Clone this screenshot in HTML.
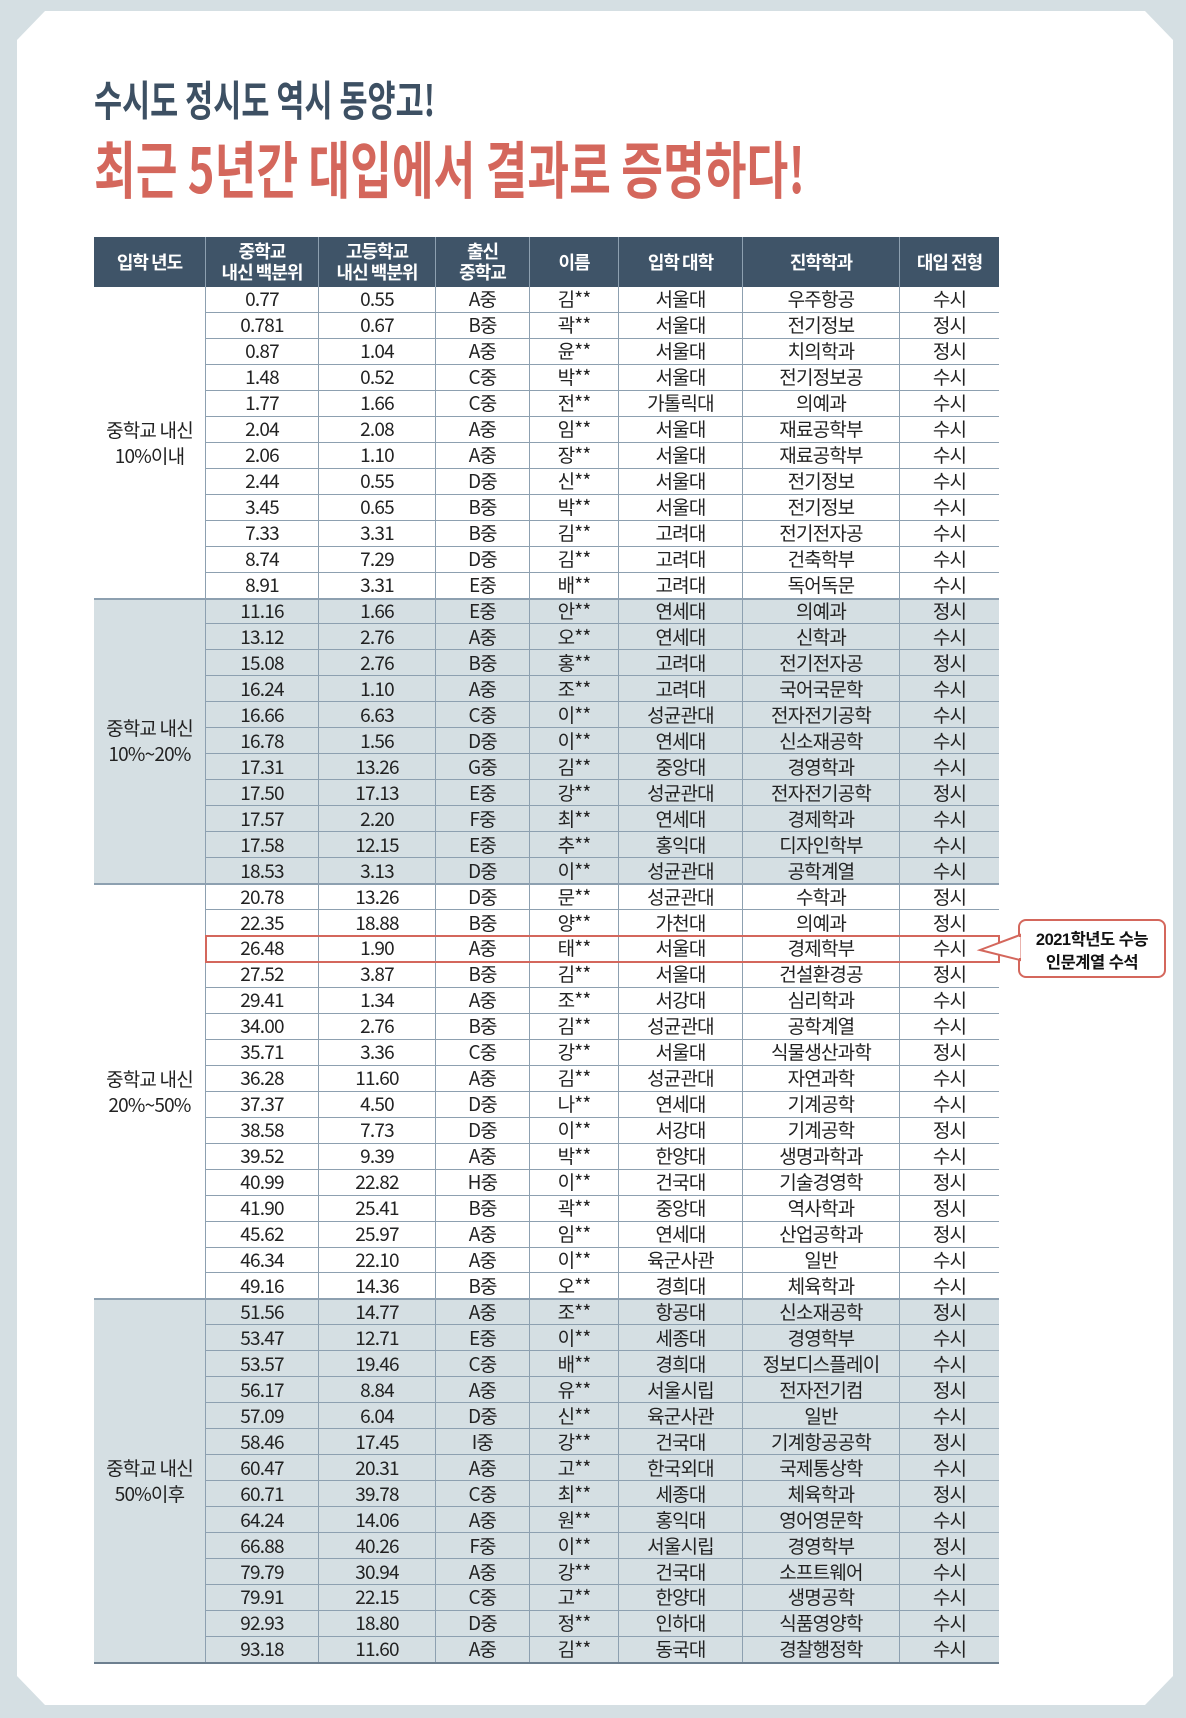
<!DOCTYPE html>
<html><head><meta charset="utf-8">
<style>
html,body{margin:0;padding:0;}
body{width:1186px;height:1718px;background:#d5dfe3;position:relative;overflow:hidden;font-family:"Noto Sans CJK KR",sans-serif;}
#card{position:absolute;left:17px;top:11px;width:1156px;height:1694px;background:#fff;
clip-path:polygon(28px 0,1128px 0,1156px 29px,1156px 1665px,1128px 1694px,28px 1694px,0 1665px,0 29px);}
.c{position:absolute;display:flex;align-items:center;justify-content:center;text-align:center;font-size:19px;line-height:22px;color:#222;letter-spacing:-0.8px;box-sizing:border-box;font-family:"Noto Sans CJK KR",sans-serif;}
.h{color:#fff;font-weight:bold;font-size:18px;line-height:21px;letter-spacing:-1px;}
</style></head><body>
<div id="card"></div>
<svg style="position:absolute;left:0;top:0" width="1186" height="200">
<text x="94" y="116" font-size="42" font-weight="bold" fill="#3d5063" textLength="341" lengthAdjust="spacingAndGlyphs" font-family="Noto Sans CJK KR, sans-serif">수시도 정시도 역시 동양고!</text>
<text x="94" y="193" font-size="62" font-weight="bold" fill="#d4675c" textLength="711" lengthAdjust="spacingAndGlyphs" font-family="Noto Sans CJK KR, sans-serif">최근 5년간 대입에서 결과로 증명하다!</text>
</svg>
<div id="tbl"></div>
<script>
const headers=["입학 년도","중학교<br>내신 백분위","고등학교<br>내신 백분위","출신<br>중학교","이름","입학 대학","진학학과","대입 전형"];
const groupLabels=["중학교 내신<br>10%이내","중학교 내신<br>10%~20%","중학교 내신<br>20%~50%","중학교 내신<br>50%이후"];
const groupSizes=[12,11,16,14];
const rows=[
["0.77","0.55","A중","김**","서울대","우주항공","수시"],
["0.781","0.67","B중","곽**","서울대","전기정보","정시"],
["0.87","1.04","A중","윤**","서울대","치의학과","정시"],
["1.48","0.52","C중","박**","서울대","전기정보공","수시"],
["1.77","1.66","C중","전**","가톨릭대","의예과","수시"],
["2.04","2.08","A중","임**","서울대","재료공학부","수시"],
["2.06","1.10","A중","장**","서울대","재료공학부","수시"],
["2.44","0.55","D중","신**","서울대","전기정보","수시"],
["3.45","0.65","B중","박**","서울대","전기정보","수시"],
["7.33","3.31","B중","김**","고려대","전기전자공","수시"],
["8.74","7.29","D중","김**","고려대","건축학부","수시"],
["8.91","3.31","E중","배**","고려대","독어독문","수시"],
["11.16","1.66","E중","안**","연세대","의예과","정시"],
["13.12","2.76","A중","오**","연세대","신학과","수시"],
["15.08","2.76","B중","홍**","고려대","전기전자공","정시"],
["16.24","1.10","A중","조**","고려대","국어국문학","수시"],
["16.66","6.63","C중","이**","성균관대","전자전기공학","수시"],
["16.78","1.56","D중","이**","연세대","신소재공학","수시"],
["17.31","13.26","G중","김**","중앙대","경영학과","수시"],
["17.50","17.13","E중","강**","성균관대","전자전기공학","정시"],
["17.57","2.20","F중","최**","연세대","경제학과","수시"],
["17.58","12.15","E중","추**","홍익대","디자인학부","수시"],
["18.53","3.13","D중","이**","성균관대","공학계열","수시"],
["20.78","13.26","D중","문**","성균관대","수학과","정시"],
["22.35","18.88","B중","양**","가천대","의예과","정시"],
["26.48","1.90","A중","태**","서울대","경제학부","수시"],
["27.52","3.87","B중","김**","서울대","건설환경공","정시"],
["29.41","1.34","A중","조**","서강대","심리학과","수시"],
["34.00","2.76","B중","김**","성균관대","공학계열","수시"],
["35.71","3.36","C중","강**","서울대","식물생산과학","정시"],
["36.28","11.60","A중","김**","성균관대","자연과학","수시"],
["37.37","4.50","D중","나**","연세대","기계공학","수시"],
["38.58","7.73","D중","이**","서강대","기계공학","정시"],
["39.52","9.39","A중","박**","한양대","생명과학과","수시"],
["40.99","22.82","H중","이**","건국대","기술경영학","정시"],
["41.90","25.41","B중","곽**","중앙대","역사학과","정시"],
["45.62","25.97","A중","임**","연세대","산업공학과","정시"],
["46.34","22.10","A중","이**","육군사관","일반","수시"],
["49.16","14.36","B중","오**","경희대","체육학과","수시"],
["51.56","14.77","A중","조**","항공대","신소재공학","정시"],
["53.47","12.71","E중","이**","세종대","경영학부","수시"],
["53.57","19.46","C중","배**","경희대","정보디스플레이","수시"],
["56.17","8.84","A중","유**","서울시립","전자전기컴","정시"],
["57.09","6.04","D중","신**","육군사관","일반","수시"],
["58.46","17.45","I중","강**","건국대","기계항공공학","정시"],
["60.47","20.31","A중","고**","한국외대","국제통상학","수시"],
["60.71","39.78","C중","최**","세종대","체육학과","정시"],
["64.24","14.06","A중","원**","홍익대","영어영문학","수시"],
["66.88","40.26","F중","이**","서울시립","경영학부","정시"],
["79.79","30.94","A중","강**","건국대","소프트웨어","수시"],
["79.91","22.15","C중","고**","한양대","생명공학","수시"],
["92.93","18.80","D중","정**","인하대","식품영양학","수시"],
["93.18","11.60","A중","김**","동국대","경찰행정학","수시"]
];
const highlightRow=25;
const colX=[94,205,318,435,529,618,742,899,999];
const headTop=237, headH=50, rowH=25.96;
const tbl=document.getElementById('tbl');
function box(x,y,w,h,cls,html,bg,extra){
  const d=document.createElement('div');
  d.className=cls;
  d.style.left=x+'px';d.style.top=y+'px';d.style.width=w+'px';d.style.height=h+'px';
  if(bg)d.style.background=bg;
  if(extra)Object.assign(d.style,extra);
  d.innerHTML=html;tbl.appendChild(d);return d;
}
const hb=box(colX[0],headTop,colX[8]-colX[0],headH,'c','', '#3f5468');


headers.forEach((t,i)=>{
  const d=box(colX[i],headTop,colX[i+1]-colX[i],headH,'c h',t,null,i>0?{borderLeft:'1px solid #8da0b0'}:{});
  
  
});
const dataTop=headTop+headH;
let r0=0;
groupSizes.forEach((n,g)=>{
  const y=dataTop+r0*rowH, h=n*rowH;
  const bg=(g%2==1)?'#d5dfe3':'#fff';
  const bgd=box(colX[0],y,colX[8]-colX[0],h,'c','',bg);
  
  
  const lab=box(colX[0],y,colX[1]-colX[0],h,'c',groupLabels[g],null,{lineHeight:'26px',fontSize:'19px'});
  
  
  if(g>0){const ln=box(colX[0],y-1,colX[8]-colX[0],2,'c','','#8da0b0');
    
    }
  r0+=n;
});
rows.forEach((row,r)=>{
  const y=dataTop+r*rowH;
  row.forEach((v,i)=>{
    const x=colX[i+1], w=colX[i+2]-x;
    const d=box(x,y,w,rowH,'c',v,null,{borderLeft:'1px solid #8da0b0',borderBottom:'1px solid #8da0b0'});
    
    
  });
});
const bl=box(colX[0],dataTop+rows.length*rowH-1,colX[8]-colX[0],2,'c','','#6d7f8f');


const hl=box(colX[1],dataTop+highlightRow*rowH-1,colX[8]-colX[1]+1,rowH+2,'c','',null,{border:'2px solid #d4675c'});


</script>
<svg style="position:absolute;left:0;top:0" width="1186" height="1718">
<rect x="1019" y="920" width="146" height="57" rx="7" fill="#fff" stroke="#d4675c" stroke-width="2"/>
<polygon points="1020,935 980,950 1020,960" fill="#fff" stroke="#d4675c" stroke-width="2"/>
<line x1="1019" y1="937" x2="1019" y2="958" stroke="#fff" stroke-width="3"/>
<text x="1092" y="945" font-size="16.5" font-weight="bold" text-anchor="middle" fill="#111" font-family="Liberation Sans, Noto Sans CJK KR, sans-serif" letter-spacing="-0.5">2021학년도 수능</text>
<text x="1092" y="968" font-size="16.5" font-weight="bold" text-anchor="middle" fill="#111" font-family="Liberation Sans, Noto Sans CJK KR, sans-serif" letter-spacing="-0.5">인문계열 수석</text>
</svg>
</body></html>
